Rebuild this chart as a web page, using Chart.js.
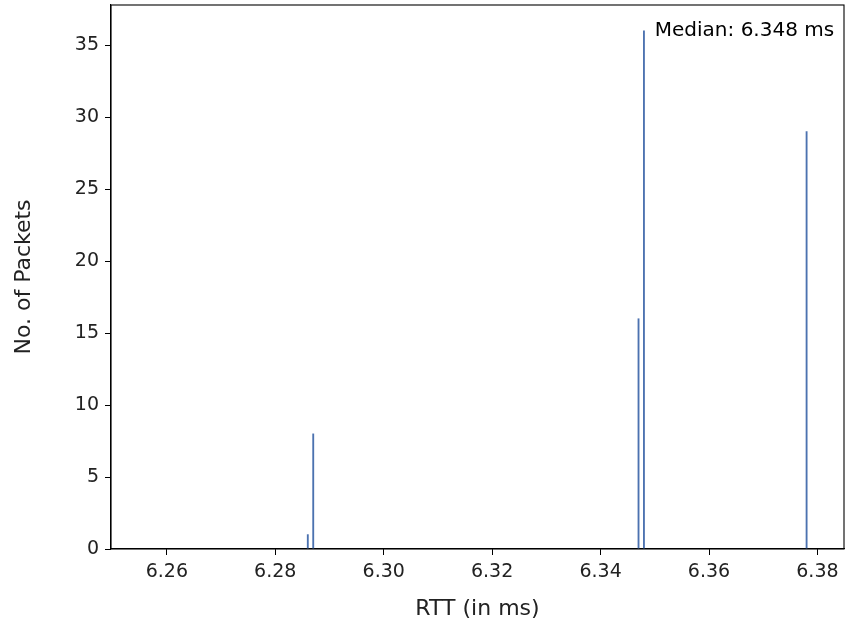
<!DOCTYPE html>
<html>
<head>
<meta charset="utf-8">
<script src="https://cdn.jsdelivr.net/npm/chart.js@4.4.0/dist/chart.umd.min.js"></script>
<style>
  html, body { margin: 0; padding: 0; background: #ffffff; }
  #wrap { width: 845px; height: 630px; }
</style>
</head>
<body>
<div id="wrap"><canvas id="rtt-hist" width="845" height="630"></canvas></div>
<script>
// RTT histogram data
const rttValues = [6.286, 6.287, 6.347, 6.348, 6.378];
const packetCounts = [1, 8, 16, 36, 29];
const xTicks = [6.26, 6.28, 6.30, 6.32, 6.34, 6.36, 6.38];
const yTicks = [0, 5, 10, 15, 20, 25, 30, 35];
const medianRtt = 6.348;
const medianText = "Median: 6.348 ms";

const fontFamily = "'DejaVu Sans', sans-serif";

//draws the box round the plot and the median note
const framePlugin = {
  id: "frame",
  afterDraw(chart) {
    const { ctx, chartArea, scales } = chart;
    ctx.save();
    ctx.strokeStyle = "#000000";
    ctx.lineWidth = 1.1;
    ctx.strokeRect(chartArea.left, chartArea.top, chartArea.right - chartArea.left, chartArea.bottom - chartArea.top);
    // median note next to the tallest bar
    const maxCount = Math.max(...packetCounts);
    ctx.fillStyle = "#000000";
    ctx.font = "20px " + fontFamily;
    ctx.textAlign = "left";
    ctx.textBaseline = "middle";
    ctx.fillText(medianText, scales.x.getPixelForValue(medianRtt + 0.002), scales.y.getPixelForValue(maxCount));
    ctx.restore();
  },
};

const points = rttValues.map((v, i) => ({ x: v, y: packetCounts[i] }));

new Chart(document.getElementById("rtt-hist"), {
  type: "bar",
  plugins: [framePlugin],
  data: {
    datasets: [
      {
        data: points,
        backgroundColor: "#4c72b0",
        borderWidth: 0,
        barThickness: 1.2,
      },
    ],
  },
  options: {
    responsive: false,
    animation: false,
    layout: { padding: { top: 5, right: 1, left: 0, bottom: 0 } },
    plugins: {
      legend: { display: false },
      tooltip: { enabled: false },
    },
    scales: {
      x: {
        type: "linear",
        offset: false,
        min: 6.2497,
        max: 6.3849,
        grid: { display: true, offset: false, drawOnChartArea: false, drawTicks: true, tickLength: 6, color: "#000000" },
        border: { display: true, color: "#000000", width: 1.1 },
        afterBuildTicks: (scale) => { scale.ticks = xTicks.map((v) => ({ value: v })); },
        afterFit: (scale) => {
          scale.height = 81;
          scale.paddingLeft = 0;
          scale.paddingRight = 0;
        },
        ticks: {
          color: "#222222",
          padding: 6,
          maxRotation: 0,
          autoSkip: false,
          font: { family: fontFamily, size: 19 },
          callback: (v) => Number(v).toFixed(2),
        },
        title: {
          display: true,
          text: "RTT (in ms)",
          color: "#222222",
          font: { family: fontFamily, size: 22 },
          padding: { top: 0, bottom: 8 },
        },
      },
      y: {
        min: 0,
        max: 37.8,
        grid: { display: true, drawOnChartArea: false, drawTicks: true, tickLength: 6, color: "#000000" },
        border: { display: true, color: "#000000", width: 1.1 },
        afterBuildTicks: (scale) => { scale.ticks = yTicks.map((v) => ({ value: v })); },
        afterFit: (scale) => {
          scale.width = 111;
          scale.paddingTop = 0;
          scale.paddingBottom = 0;
        },
        ticks: {
          color: "#222222",
          padding: 6,
          font: { family: fontFamily, size: 19 },
        },
        title: {
          display: true,
          text: "No. of Packets",
          color: "#222222",
          font: { family: fontFamily, size: 22 },
          padding: { top: 11, bottom: 0 },
        },
      },
    },
  },
});
</script>
</body>
</html>
